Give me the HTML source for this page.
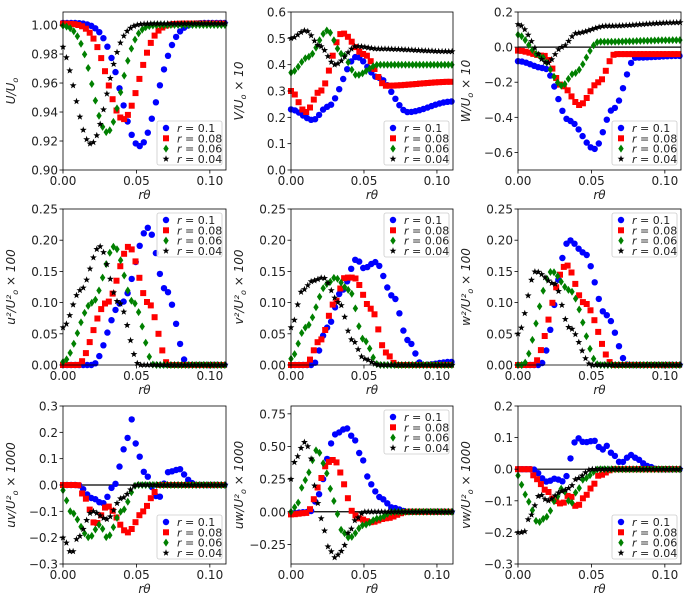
<!DOCTYPE html>
<html><head><meta charset="utf-8"><style>
html,body{margin:0;padding:0;background:#fff;}
svg text{font-family:"DejaVu Sans","Liberation Sans",sans-serif;fill:#222;}
</style></head><body>
<svg id="s" width="694" height="600" xmlns="http://www.w3.org/2000/svg"></svg>
<script>
const S=document.getElementById('s');let out='';
const cols=[[63,226],[291,453],[518,681]];
const rows=[[12,170],[209,365],[406,564]];
function interp(k,x){if(x<=k[0][0])return k[0][1];for(let i=1;i<k.length;i++){if(x<=k[i][0]){const a=k[i-1],b=k[i];const t=(x-a[0])/(b[0]-a[0]);const s=t*t*(3-2*t);return a[1]+(b[1]-a[1])*s;}}return k[k.length-1][1];}
function g(b,c,d,w){return x=>b-d*Math.exp(-((x-c)*(x-c))/(2*w*w));}
const P=[
{ymin:0.90,ymax:1.009,ticks:[0.90,0.92,0.94,0.96,0.98,1.00],fmt:2,lab:'U/U<tspan font-size="8" dy="3">o</tspan>',leg:'lr',zero:false,
 s:[g(1.0015,0.052,0.085,0.012),g(1.001,0.041,0.066,0.0105),g(1.000,0.030,0.074,0.0095),x=>Math.min(1.001,g(1.001,0.019,0.083,0.0105)(x))]},
{ymin:0,ymax:0.6,ticks:[0,0.1,0.2,0.3,0.4,0.5,0.6],fmt:1,lab:'V/U<tspan font-size="8" dy="3">o</tspan><tspan dy="-3"> × 10</tspan>',leg:'lr',
 s:[[[0,.23],[.015,.19],[.025,.24],[.045,.43],[.06,.35],[.08,.22],[.11,.26]],[[0,.30],[.01,.22],[.02,.30],[.035,.52],[.05,.44],[.065,.32],[.11,.335]],[[0,.37],[.012,.43],[.025,.53],[.035,.44],[.045,.36],[.06,.40],[.11,.40]],[[0,.50],[.01,.53],[.02,.47],[.03,.40],[.045,.47],[.06,.46],[.11,.45]]]},
{ymin:-0.7,ymax:0.2,ticks:[-0.6,-0.4,-0.2,0,0.2],fmt:1,lab:'W/U<tspan font-size="8" dy="3">o</tspan><tspan dy="-3"> × 10</tspan>',leg:'lr',zero:true,
 s:[[[0,-.08],[.018,-.12],[.035,-.42],[.052,-.58],[.065,-.35],[.08,-.06],[.11,-.05]],[[0,-.02],[.018,-.05],[.03,-.22],[.042,-.33],[.055,-.2],[.066,-.04],[.11,-.04]],[[0,.07],[.015,-.05],[.03,-.22],[.038,-.15],[.055,.03],[.11,.04]],[[0,.13],[.02,-.09],[.03,.0],[.04,.08],[.06,.12],[.11,.14]]]},
{ymin:0,ymax:0.25,ticks:[0,.05,.1,.15,.2,.25],fmt:2,lab:'u²/U²<tspan font-size="8" dy="3">o</tspan><tspan dy="-3"> × 100</tspan>',leg:'ur',
 s:[[[0,0],[.02,0],[.04,.1],[.058,.22],[.07,.12],[.085,0],[.11,0]],[[0,0],[.01,0],[.03,.1],[.045,.19],[.058,.1],[.072,0],[.11,0]],[[0,.005],[.02,.1],[.035,.19],[.048,.1],[.062,0],[.11,0]],[[0,.06],[.012,.12],[.025,.19],[.038,.1],[.052,0],[.11,0]]]},
{ymin:0,ymax:0.25,ticks:[0,.05,.1,.15,.2,.25],fmt:2,lab:'v²/U²<tspan font-size="8" dy="3">o</tspan><tspan dy="-3"> × 100</tspan>',leg:'ur',
 s:[[[0,0],[.015,0],[.025,.06],[.035,.12],[.045,.17],[.05,.155],[.058,.165],[.07,.11],[.08,.04],[.09,0],[.11,.005]],[[0,0],[.01,0],[.02,.04],[.03,.1],[.037,.14],[.043,.14],[.055,.09],[.065,.02],[.072,0],[.11,0]],[[0,.01],[.01,.06],[.025,.13],[.03,.14],[.04,.12],[.05,.04],[.06,0],[.11,0]],[[0,.06],[.008,.12],[.015,.135],[.022,.14],[.033,.1],[.042,.04],[.05,.01],[.06,0],[.11,0]]]},
{ymin:0,ymax:0.25,ticks:[0,.05,.1,.15,.2,.25],fmt:2,lab:'w²/U²<tspan font-size="8" dy="3">o</tspan><tspan dy="-3"> × 100</tspan>',leg:'ur',
 s:[[[0,0],[.015,0],[.035,.2],[.045,.18],[.06,.08],[.075,0],[.11,0]],[[0,0],[.01,0],[.033,.16],[.045,.1],[.065,0],[.11,0]],[[0,0],[.003,0],[.023,.15],[.035,.12],[.055,0],[.11,0]],[[0,.05],[.012,.15],[.025,.13],[.035,.06],[.05,0],[.11,0]]]},
{ymin:-0.3,ymax:0.3,ticks:[-.3,-.2,-.1,0,.1,.2,.3],fmt:1,lab:'uv/U²<tspan font-size="8" dy="3">o</tspan><tspan dy="-3"> × 1000</tspan>',leg:'lr',zero:true,
 s:[[[0,0],[.01,0],[.02,-.05],[.027,-.07],[.035,0],[.042,.14],[.047,.25],[.05,.15],[.055,.05],[.065,-.05],[.072,.05],[.08,.06],[.085,.02],[.09,0],[.11,0]],[[0,0],[.01,0],[.015,-.05],[.022,-.15],[.03,-.08],[.044,-.18],[.055,-.1],[.06,-.05],[.065,0],[.11,0]],[[0,-.02],[.005,-.1],[.018,-.2],[.025,-.15],[.03,-.2],[.04,-.1],[.05,0],[.11,0]],[[0,-.2],[.006,-.26],[.01,-.2],[.02,-.1],[.03,-.13],[.04,-.05],[.05,0],[.11,0]]]},
{ymin:-0.40,ymax:0.81,ticks:[-.25,0,.25,.5,.75],fmt:2,lab:'uw/U²<tspan font-size="8" dy="3">o</tspan><tspan dy="-3"> × 1000</tspan>',leg:'ur',zero:true,
 s:[[[0,-.01],[.013,0],[.018,.1],[.022,.25],[.027,.52],[.031,.6],[.038,.64],[.043,.56],[.048,.43],[.053,.26],[.057,.16],[.062,.1],[.07,.03],[.08,0],[.11,0]],
    [[0,-.02],[.01,-.01],[.013,.02],[.016,.1],[.02,.25],[.025,.38],[.03,.4],[.034,.3],[.037,.2],[.04,.07],[.042,0],[.046,-.05],[.055,-.08],[.065,-.05],[.08,0],[.11,0]],
    [[0,0],[.005,.07],[.008,.2],[.012,.3],[.017,.47],[.02,.45],[.024,.3],[.028,.15],[.031,0],[.035,-.15],[.04,-.2],[.05,-.1],[.06,-.05],[.07,0],[.11,0]],
    [[0,.25],[.003,.4],[.008,.5],[.01,.55],[.013,.45],[.016,.2],[.019,.05],[.022,-.12],[.026,-.28],[.03,-.35],[.035,-.3],[.04,-.15],[.045,-.05],[.05,0],[.11,0]]]},
{ymin:-0.3,ymax:0.2,ticks:[-.3,-.2,-.1,0,.1,.2],fmt:1,lab:'vw/U²<tspan font-size="8" dy="3">o</tspan><tspan dy="-3"> × 1000</tspan>',leg:'lr',zero:true,
 s:[[[0,0],[.01,0],[.02,-.04],[.025,-.03],[.032,-.04],[.035,.03],[.04,.1],[.045,.085],[.052,.09],[.057,.06],[.06,.075],[.064,.05],[.07,.02],[.077,.045],[.082,.03],[.088,.01],[.095,0],[.11,0]],
    [[0,0],[.008,0],[.012,-.03],[.02,-.07],[.025,-.1],[.03,-.11],[.035,-.08],[.04,-.12],[.045,-.09],[.05,-.06],[.055,-.02],[.065,0],[.11,0]],
    [[0,-.02],[.005,-.08],[.01,-.13],[.013,-.17],[.02,-.15],[.025,-.1],[.03,-.06],[.036,-.11],[.04,-.07],[.045,-.03],[.055,0],[.11,0]],
    [[0,-.2],[.004,-.2],[.008,-.15],[.015,-.08],[.02,-.1],[.03,-.07],[.035,-.06],[.04,-.03],[.05,0],[.11,0]]]}
];
function f1(v){return (+v).toFixed(1);}
function marker(i,x,y){
 x=+x;y=+y;
 if(i==0)return `<circle cx="${f1(x)}" cy="${f1(y)}" r="3.2" fill="#0000ff"/>`;
 if(i==1)return `<rect x="${f1(x-3)}" y="${f1(y-3)}" width="6" height="6" fill="#ff0000"/>`;
 if(i==2)return `<polygon points="${f1(x)},${f1(y-4)} ${f1(x+2.7)},${f1(y)} ${f1(x)},${f1(y+4)} ${f1(x-2.7)},${f1(y)}" fill="#008000"/>`;
 let p=[];for(let k=0;k<10;k++){const r=k%2?1.5:3.6;const a=-Math.PI/2+k*Math.PI/5;p.push(f1(x+r*Math.cos(a))+','+f1(y+r*Math.sin(a)));}
 return `<polygon points="${p.join(' ')}" fill="#000"/>`;
}
const labs=[' = 0.1',' = 0.08',' = 0.06',' = 0.04'];
P.forEach((p,idx)=>{
 const x0=cols[idx%3][0],x1=cols[idx%3][1],y0=rows[Math.floor(idx/3)][0],y1=rows[Math.floor(idx/3)][1];
 const X=v=>x0+(v/0.111)*(x1-x0), Y=v=>y1-(v-p.ymin)/(p.ymax-p.ymin)*(y1-y0);
 if(p.zero)out+=`<line x1="${x0}" x2="${x1}" y1="${Y(0)}" y2="${Y(0)}" stroke="#000" stroke-width="1.2"/>`;
 p.s.forEach((f,si)=>{
  const fn=typeof f=='function'?f:(x=>interp(f,x));
  const step=[0.00275,0.0026,0.00245,0.0023][si];
  for(let x=0;x<=0.111;x+=step){const y=fn(x);const py=Y(y);if(py<y0||py>y1)continue;out+=marker(si,X(x),py);}
 });
 out+=`<rect x="${x0}" y="${y0}" width="${x1-x0}" height="${y1-y0}" fill="none" stroke="#000" stroke-width="0.8"/>`;
 [0,0.05,0.10].forEach(v=>{const px=X(v);out+=`<line x1="${px}" x2="${px}" y1="${y1}" y2="${y1+3.5}" stroke="#000" stroke-width="0.8"/><text x="${px}" y="${y1+15}" font-size="12" text-anchor="middle">${v.toFixed(2)}</text>`;});
 p.ticks.forEach(v=>{const py=Y(v);let t=v.toFixed(p.fmt);if(v<0)t='−'+t.slice(1);out+=`<line x1="${x0-3.5}" x2="${x0}" y1="${py}" y2="${py}" stroke="#000" stroke-width="0.8"/><text x="${x0-5}" y="${py+4.5}" font-size="12" text-anchor="end">${t}</text>`;});
 out+=`<text x="${(x0+x1)/2}" y="${y1+29}" font-size="12" font-style="italic" text-anchor="middle">rθ</text>`;
 const lx=x0-48,ly=(y0+y1)/2;
 out+=`<text transform="translate(${lx},${ly}) rotate(-90)" font-size="12" text-anchor="middle"><tspan font-style="italic">${p.lab}</tspan></text>`;
 const lw=65,lh=44;const bx=x1-lw-4;const by=p.leg=='ur'?y0+4:y1-lh-5;
 out+=`<rect x="${bx}" y="${by}" width="${lw}" height="${lh}" fill="#fff" fill-opacity="0.85" stroke="#ccc" stroke-width="0.8" rx="2"/>`;
 for(let i=0;i<4;i++){const yy=by+7+i*10.3;out+=marker(i,bx+9,yy);out+=`<text x="${bx+20}" y="${yy+4}" font-size="11"><tspan font-style="italic">r</tspan>${labs[i]}</text>`;}
});
S.innerHTML=out;
</script>
</body></html>
